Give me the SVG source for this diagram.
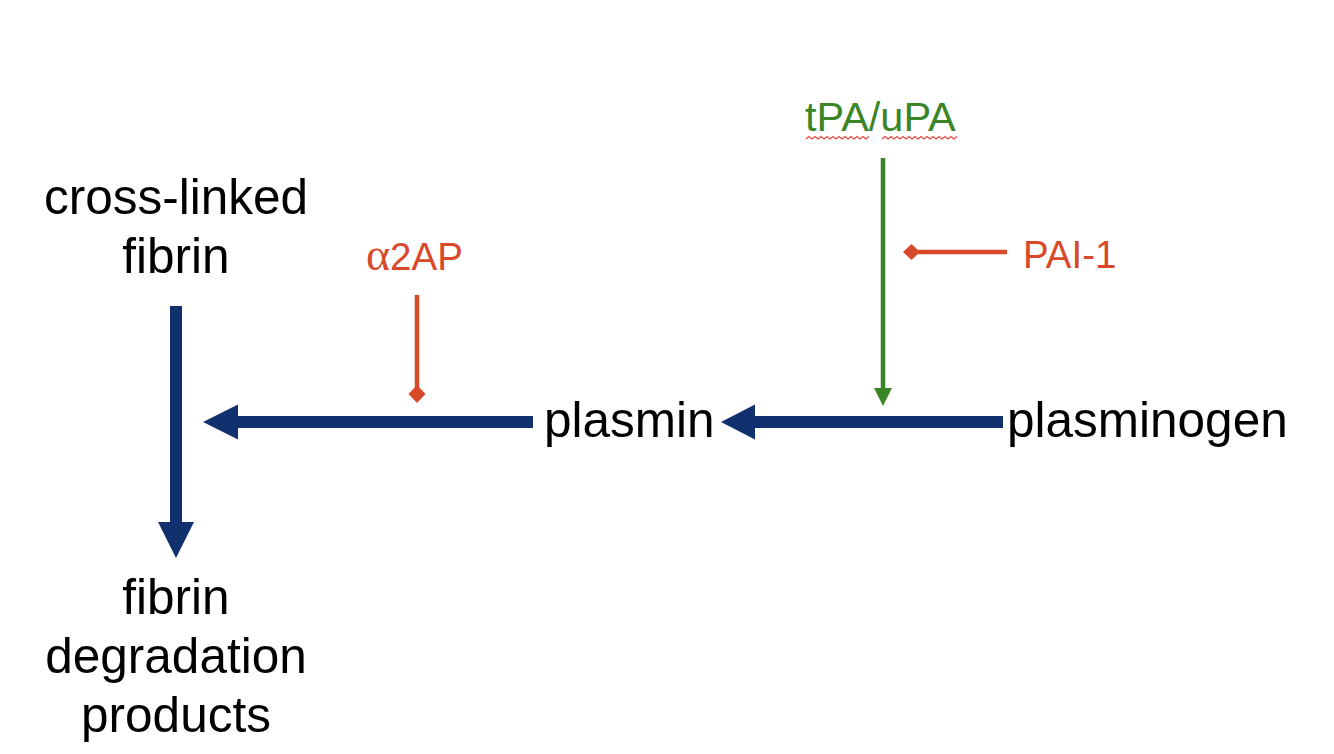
<svg xmlns="http://www.w3.org/2000/svg" width="1334" height="754" viewBox="0 0 1334 754">
<style>
.t{font-family:"Liberation Sans",Arial,sans-serif;font-size:49.5px;fill:#000}
.r{font-family:"Liberation Sans",Arial,sans-serif;font-size:38.5px;fill:#D8492B}
.g{font-family:"Liberation Sans",Arial,sans-serif;font-size:41.5px;fill:#3A8526}
.navy{stroke:#10306E;stroke-width:12;fill:none}
.navyh{fill:#10306E}
.red{stroke:#D8492B;stroke-width:4.5;fill:none}
.redh{fill:#D8492B}
.grn{stroke:#3A8526;stroke-width:4.5;fill:none}
.grnh{fill:#3A8526}
.sq{stroke:#E8453C;stroke-width:1.2;fill:none}
</style>
<rect width="1334" height="754" fill="#fff"/>
<g id="connectors">
<path class="navy" d="M533 422H232"/>
<path class="navyh" d="M203 422L238 404.5V439.5Z"/>
<path class="navy" d="M1003 422H750"/>
<path class="navyh" d="M721 422L755 404.5V439.5Z"/>
<path class="navy" d="M176 306V526"/>
<path class="navyh" d="M176 558L158 522H194Z"/>
<path class="grn" d="M883 158V392"/>
<path class="grnh" d="M883 406L874 388H892Z"/>
<path class="red" d="M417 295V390"/>
<path class="redh" d="M417 385L425.5 394L417 403L408.5 394Z"/>
<path class="red" d="M1007 252H915"/>
<path class="redh" d="M903 252L911.5 244L920 252L911.5 260Z"/>
</g>
<g id="node-crosslinked-fibrin">
<text class="t" x="176" y="214" text-anchor="middle">cross-linked</text>
<text class="t" x="176" y="273" text-anchor="middle">fibrin</text>
</g>
<g id="node-fdp">
<text class="t" x="176" y="614" text-anchor="middle">fibrin</text>
<text class="t" x="176" y="673" text-anchor="middle">degradation</text>
<text class="t" x="176" y="732" text-anchor="middle">products</text>
</g>
<g id="node-plasmin">
<text class="t" x="544" y="437">plasmin</text>
</g>
<g id="node-plasminogen">
<text class="t" x="1007" y="437">plasminogen</text>
</g>
<g id="node-a2ap">
<text class="r" x="366" y="270"><tspan font-family="'Liberation Serif',serif" font-size="46">α</tspan>2AP</text>
</g>
<g id="node-pai1">
<text class="r" x="1023" y="268">PAI-1</text>
</g>
<g id="node-tpa">
<text class="g" x="805" y="131">tPA/uPA</text>
<path class="sq" d="M806 139l3 -2.5l3 2.5l3 -2.5l3 2.5l3 -2.5l3 2.5l3 -2.5l3 2.5l3 -2.5l3 2.5l3 -2.5l3 2.5l3 -2.5l3 2.5l3 -2.5l3 2.5l3 -2.5l3 2.5l3 -2.5l3 2.5l3 -2.5"/>
<path class="sq" d="M882 139l3 -2.5l3 2.5l3 -2.5l3 2.5l3 -2.5l3 2.5l3 -2.5l3 2.5l3 -2.5l3 2.5l3 -2.5l3 2.5l3 -2.5l3 2.5l3 -2.5l3 2.5l3 -2.5l3 2.5l3 -2.5l3 2.5l3 -2.5l3 2.5l3 -2.5l3 2.5l3 -2.5"/>
</g>
</svg>
